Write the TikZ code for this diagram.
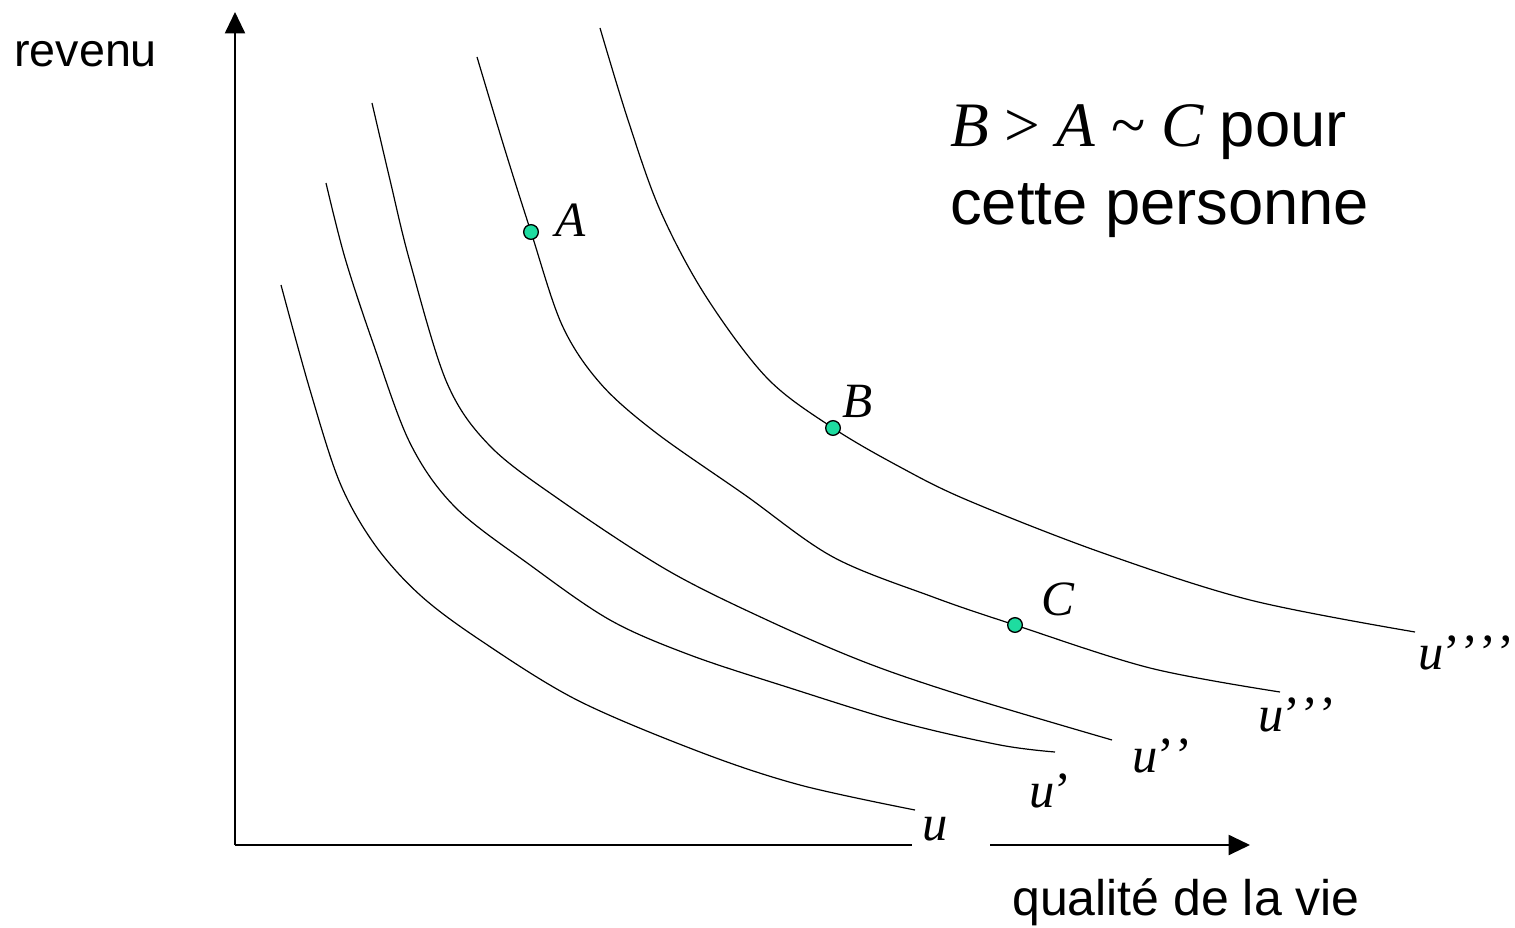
\documentclass[tikz,border=0pt]{standalone}
\usepackage{fontspec}
\setmainfont{Liberation Serif}
\setsansfont{Liberation Sans}
\usetikzlibrary{arrows.meta}
\definecolor{dotgreen}{RGB}{30,220,160}
\newcommand{\pr}{’\kern0.8pt}
\tikzset{
  axis/.style={line width=1.5pt,-{Triangle[length=16pt,width=15pt]}},
  curve/.style={line width=0.9pt,smooth,tension=0.55},
  pt/.style={circle,draw=black,line width=1pt,fill=dotgreen,inner sep=0pt,minimum size=11pt},
  lab/.style={font=\fontsize{37}{40}\selectfont\itshape,inner sep=0pt},
  ulab/.style={font=\fontsize{38}{42}\selectfont,inner sep=0pt,anchor=base west},
  sans/.style={font=\sffamily\fontsize{36}{40}\selectfont,inner sep=0pt,anchor=base west},
  big/.style={font=\fontsize{47.5}{56}\selectfont,inner sep=0pt,anchor=base west}
}
\begin{document}
\begin{tikzpicture}[x=0.75pt,y=-0.75pt]
\useasboundingbox (0,0) rectangle (1515,927);
% axes
\coordinate (O) at (235,845);
\coordinate (Ytop) at (235,12);
\coordinate (Xend) at (1250,845);
\draw[axis] (O) -- (Ytop);
\draw[axis] (O) -- (Xend);
\node[fill=white,inner sep=0pt,minimum width=58pt,minimum height=8pt] (gap) at (951,845) {};
% curves
\draw[curve] plot coordinates {(281,285) (310,390) (340,483) (375,545) (420,595) (480,640) (577,700) (700,752) (800,785) (915,810)};
\draw[curve] plot coordinates {(326,183) (345,258) (373,343) (410,443) (455,507) (530,565) (610,620) (690,655) (790,688) (900,722) (1000,745) (1055,752)};
\draw[curve] plot coordinates {(372,103) (390,180) (410,262) (447,383) (490,446) (560,500) (667,570) (767,620) (867,663) (967,697) (1112,740)};
\draw[curve] plot coordinates {(477,57) (505,150) (531,232) (562,325) (600,383) (655,432) (745,495) (833,557) (933,597) (1015,625) (1150,668) (1280,692)};
\draw[curve] plot coordinates {(600,28) (628,120) (660,210) (705,295) (767,378) (833,428) (900,467) (967,500) (1100,552) (1250,600) (1415,632)};
% points
\node[pt] (A) at (531,232) {};
\node[pt] (B) at (833,428) {};
\node[pt] (C) at (1015,625) {};
\node[lab] (Alab) at (571,220) {A};
\node[lab] (Blab) at (858,401) {B};
\node[lab] (Clab) at (1058,599) {C};
% curve labels
\node[ulab] (u0) at (922,840) {\textit{u}};
\node[ulab] (u1) at (1029,807) {\textit{u}’};
\node[ulab] (u2) at (1132,772) {\textit{u}\pr’};
\node[ulab] (u3) at (1258,731) {\textit{u}\pr\pr’};
\node[ulab] (u4) at (1418,669) {\textit{u}\pr\pr\pr’};
% axis labels
\node[sans,font=\sffamily\fontsize{35}{40}\selectfont] (rev) at (14,67) {revenu};
\node[sans,font=\sffamily\fontsize{37.5}{40}\selectfont] (qual) at (1012,915) {qualité de la vie};
% statement
\node[big] (l1) at (950,147) {\textit{B} > \textit{A} \textasciitilde{} \textit{C} \sffamily pour};
\node[big,font=\sffamily\fontsize{47.5}{56}\selectfont] (l2) at (950,224) {cette personne};
\end{tikzpicture}
\end{document}
